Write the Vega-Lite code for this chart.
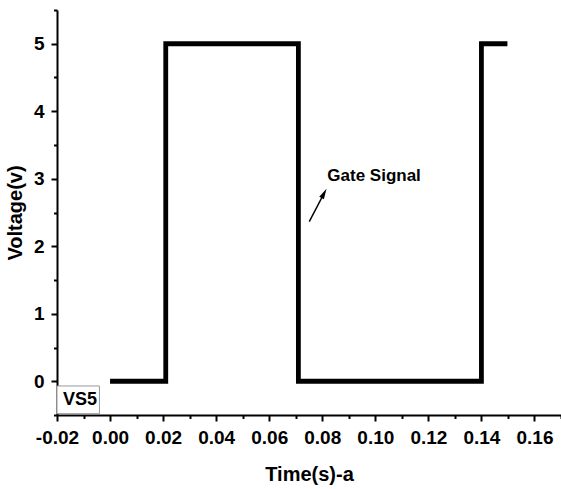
{
  "$schema": "https://vega.github.io/schema/vega-lite/v6.json",
  "autosize": {"type": "none"},
  "padding": {"left": 57, "top": 10, "right": 0, "bottom": 74},
  "width": 504,
  "height": 405,
  "background": "white",
  "config": {
    "view": {"stroke": null},
    "font": "Liberation Sans",
    "axis": {"grid": false, "tickColor": "black", "domainColor": "black", "tickWidth": 2, "domainWidth": 2, "labelColor": "black", "titleColor": "black"}
  },
  "resolve": {"axis": {"x": "independent", "y": "independent"}},
  "datasets": {
    "signal": [
      {"t": 0.0, "v": 0},
      {"t": 0.021, "v": 0},
      {"t": 0.021, "v": 5},
      {"t": 0.071, "v": 5},
      {"t": 0.071, "v": 0},
      {"t": 0.14, "v": 0},
      {"t": 0.14, "v": 5},
      {"t": 0.1498, "v": 5}
    ],
    "label": [{"t": 0.0819, "v": 2.97, "text": "Gate Signal"}],
    "arrow": [{"t": 0.0751, "v": 2.364, "t2": 0.0805, "v2": 2.77}],
    "box": [{"t": -0.02, "t2": -0.004, "v": -0.07, "v2": -0.48, "text": "VS5", "tc": -0.0113, "vc": -0.274}]
  },
  "layer": [
    {
      "data": {"name": "box"},
      "mark": {"type": "rect", "fill": "white", "stroke": "#9a9a9a", "strokeWidth": 1},
      "encoding": {
        "x": {"field": "t", "type": "quantitative", "scale": {"domain": [-0.02, 0.17], "nice": false, "zero": false}, "axis": null},
        "x2": {"field": "t2"},
        "y": {"field": "v", "type": "quantitative", "scale": {"domain": [-0.5, 5.5], "nice": false, "zero": false}, "axis": null},
        "y2": {"field": "v2"}
      }
    },
    {
      "data": {"name": "box"},
      "mark": {"type": "text", "fontWeight": "bold", "fontSize": 18, "align": "center", "baseline": "middle", "color": "black"},
      "encoding": {
        "x": {"field": "tc", "type": "quantitative", "axis": null},
        "y": {"field": "vc", "type": "quantitative", "axis": null},
        "text": {"field": "text"}
      }
    },
    {
      "data": {"name": "signal"},
      "mark": {"type": "line", "color": "black", "strokeWidth": 4.8, "strokeJoin": "miter", "strokeCap": "butt"},
      "encoding": {
        "x": {
          "field": "t", "type": "quantitative",
          "scale": {"domain": [-0.02, 0.17], "nice": false, "zero": false},
          "axis": {
            "orient": "bottom",
            "title": "Time(s)-a",
            "values": [-0.02, 0, 0.02, 0.04, 0.06, 0.08, 0.1, 0.12, 0.14, 0.16],
            "format": ".2f",
            "labelExpr": "replace(datum.label, '\u2212', '-')",
            "labelOverlap": false,
            "labelFlush": false,
            "labelFontSize": 19,
            "labelFontWeight": "bold",
            "labelPadding": 7,
            "tickSize": 6,
            "titleFontSize": 20,
            "titleFontWeight": "bold",
            "titlePadding": 17
          }
        },
        "y": {
          "field": "v", "type": "quantitative",
          "scale": {"domain": [-0.5, 5.5], "nice": false, "zero": false},
          "axis": {
            "orient": "left",
            "title": "Voltage(v)",
            "values": [0, 1, 2, 3, 4, 5],
            "format": "d",
            "labelOverlap": false,
            "labelFlush": false,
            "labelFontSize": 19,
            "labelFontWeight": "bold",
            "labelPadding": 7,
            "tickSize": 6,
            "titleFontSize": 20,
            "titleFontWeight": "bold",
            "titlePadding": 8
          }
        },
        "order": {"field": "t", "type": "quantitative"}
      }
    },
    {
      "data": {"name": "arrow"},
      "mark": {"type": "rule", "color": "black", "strokeWidth": 1.5},
      "encoding": {
        "x": {"field": "t", "type": "quantitative",
          "axis": {"orient": "bottom", "values": [-0.01, 0.01, 0.03, 0.05, 0.07, 0.09, 0.11, 0.13, 0.15, 0.17], "labels": false, "domain": false, "tickSize": 3.5, "title": null}},
        "y": {"field": "v", "type": "quantitative",
          "axis": {"orient": "left", "values": [-0.5, 0.5, 1.5, 2.5, 3.5, 4.5, 5.5], "labels": false, "domain": false, "tickSize": 3.5, "title": null}},
        "x2": {"field": "t2"},
        "y2": {"field": "v2"}
      }
    },
    {
      "data": {"name": "arrow"},
      "mark": {"type": "point", "shape": "M0,-1.3L0.55,0.9L-0.55,0.9Z", "angle": 28, "size": 90, "filled": true, "fill": "black", "stroke": "black", "strokeWidth": 0, "opacity": 1},
      "encoding": {
        "x": {"field": "t2", "type": "quantitative", "axis": null},
        "y": {"field": "v2", "type": "quantitative", "axis": null}
      }
    },
    {
      "data": {"name": "label"},
      "mark": {"type": "text", "fontWeight": "bold", "fontSize": 17, "align": "left", "baseline": "alphabetic", "color": "black"},
      "encoding": {
        "x": {"field": "t", "type": "quantitative", "axis": null},
        "y": {"field": "v", "type": "quantitative", "axis": null},
        "text": {"field": "text"}
      }
    }
  ]
}
